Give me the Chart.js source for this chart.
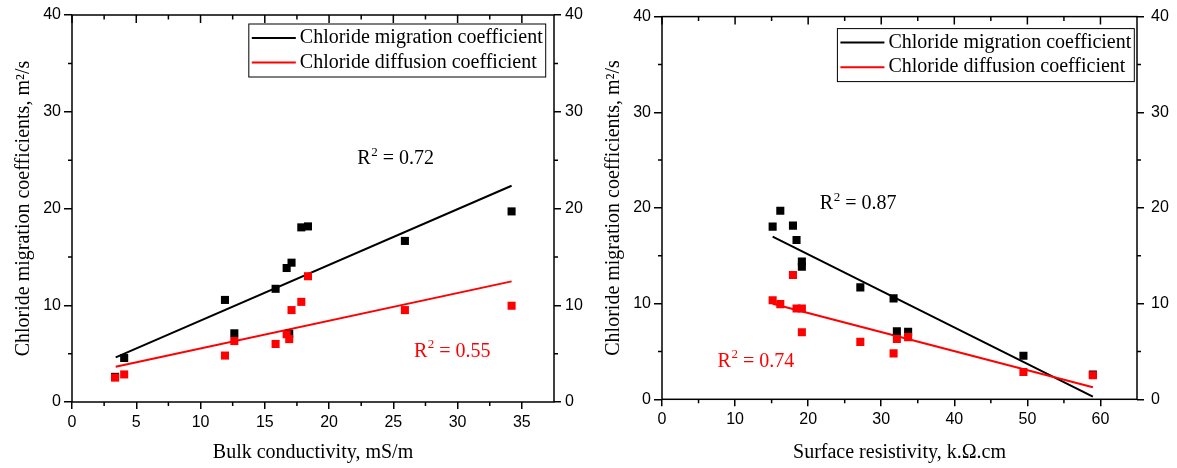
<!DOCTYPE html>
<html>
<head>
<meta charset="utf-8">
<script src="https://cdn.jsdelivr.net/npm/chart.js@4.4.1/dist/chart.umd.min.js"></script>
<style>
  html, body { margin: 0; padding: 0; background: #fff; }
  #wrap { position: relative; width: 1177px; height: 468px; }
  canvas { position: absolute; top: 0; }
</style>
</head>
<body>
<div id="wrap">
  <canvas id="bulkChart" width="590" height="468" style="left:0"></canvas>
  <canvas id="surfChart" width="587" height="468" style="left:590px"></canvas>
</div>
<script>
"use strict";

// one entry per specimen, same order in every array
const migrationCoeff = [2.6, 4.55, 10.55, 7.1, 11.7, 13.85, 7.05, 14.4, 18.05, 18.15, 16.65, 19.7];
const diffusionCoeff = [2.52, 2.85, 4.8, 6.3, 6.0, 7.0, 6.5, 9.5, 10.35, 13.0, 9.5, 9.95];
const bulkConductivity = [3.35, 4.06, 11.9, 12.63, 15.84, 16.7, 16.9, 17.08, 17.84, 18.36, 25.9, 34.2];
const surfaceResistivity = [58.96, 49.46, 31.69, 32.14, 27.14, 19.14, 33.68, 19.14, 15.14, 17.92, 18.41, 16.19];

// linear fits: start and end of each line
const bulkFitX = [3.4, 34.2];
const bulkMigrationFit = [4.62, 22.35];
const bulkDiffusionFit = [3.65, 12.47];
const surfFitX = [15.14, 58.96];
const surfMigrationFit = [17.0, 0.27];
const surfDiffusionFit = [9.98, 1.25];

const bulkR2 = ["0.72", "0.55"];
const surfR2 = ["0.87", "0.74"];

const bulkTicks = [0, 5, 10, 15, 20, 25, 30, 35];
const surfTicks = [0, 10, 20, 30, 40, 50, 60];
const coeffTicks = [0, 10, 20, 30, 40];

const seriesNames = ["Chloride migration coefficient", "Chloride diffusion coefficient"];

const black = "#000000";
const red = "#ff0000";
const seriesColors = [black, red];
const serif = "'Liberation Serif', 'Times New Roman', serif";
const sans = "'Liberation Sans', Arial, sans-serif";

function pairs(xs, ys) {
    return xs.map((x, i) => ({ x: x, y: ys[i] }));
}

// ticks halfway between the major ones
function minors(major, max) {
    const out = [];
    for (let i = 0; i < major.length; i++) {
        const step = i + 1 < major.length ? major[i + 1] - major[i] : major[i] - major[i - 1];
        const m = major[i] + step / 2;
        if (m < max) out.push(m);
    }
    return out;
}

const framePlugin = {
    id: "frame",
    afterDatasetsDraw(chart) {
        const { ctx, chartArea: a, scales } = chart;
        const xs = scales.x, ys = scales.y;
        ctx.save();
        ctx.strokeStyle = black;
        ctx.lineWidth = 1.5;
        ctx.strokeRect(a.left, a.top, a.right - a.left, a.bottom - a.top);
        ctx.beginPath();
        xs.ticks.forEach(t => {
            const p = xs.getPixelForValue(t.value);
            ctx.moveTo(p, a.top);
            ctx.lineTo(p, a.top + 8);
        });
        minors(xs.ticks.map(t => t.value), xs.max).forEach(v => {
            const p = xs.getPixelForValue(v);
            ctx.moveTo(p, a.top);
            ctx.lineTo(p, a.top + 4.5);
            ctx.moveTo(p, a.bottom);
            ctx.lineTo(p, a.bottom + 4);
        });
        minors(ys.ticks.map(t => t.value), ys.max).forEach(v => {
            const p = ys.getPixelForValue(v);
            ctx.moveTo(a.left, p);
            ctx.lineTo(a.left - 4, p);
            ctx.moveTo(a.right, p);
            ctx.lineTo(a.right + 4, p);
        });
        ctx.stroke();
        ctx.restore();
    }
};

function notesPlugin(notes) {
    return {
        id: "notes",
        afterDatasetsDraw(chart) {
            const ctx = chart.ctx;
            ctx.save();
            ctx.textBaseline = "middle";
            ctx.textAlign = "left";
            notes.forEach(n => {
                let x = chart.scales.x.getPixelForValue(n.x);
                const y = chart.scales.y.getPixelForValue(n.y);
                ctx.fillStyle = n.color;
                ctx.font = "20px " + serif;
                ctx.fillText("R", x, y);
                x += ctx.measureText("R").width + 0.5;
                ctx.font = "13px " + serif;
                ctx.fillText("2", x, y - 7);
                x += ctx.measureText("2").width;
                ctx.font = "20px " + serif;
                ctx.fillText(" = " + n.value, x, y);
            });
            ctx.restore();
        }
    };
}

function legendPlugin(offRight, offTop) {
    return {
        id: "boxLegend",
        afterDatasetsDraw(chart) {
            const ctx = chart.ctx, a = chart.chartArea;
            ctx.save();
            ctx.font = "20px " + serif;
            const w = Math.max(...seriesNames.map(s => ctx.measureText(s).width));
            const boxW = 51 + w + 3, boxH = 53;
            const left = a.right - offRight - boxW, top = a.top + offTop;
            ctx.fillStyle = "#fff";
            ctx.fillRect(left, top, boxW, boxH);
            ctx.strokeStyle = black;
            ctx.lineWidth = 1;
            ctx.strokeRect(left, top, boxW, boxH);
            ctx.textBaseline = "middle";
            seriesNames.forEach((s, i) => {
                const y = top + 14 + i * 24.6;
                ctx.strokeStyle = seriesColors[i];
                ctx.lineWidth = 2;
                ctx.beginPath();
                ctx.moveTo(left + 3, y);
                ctx.lineTo(left + 47, y);
                ctx.stroke();
                ctx.fillStyle = black;
                ctx.fillText(s, left + 51, y);
            });
            ctx.restore();
        }
    };
}

function pointSet(label, xs, ys, color, order) {
    return {
        label: label,
        data: pairs(xs, ys),
        backgroundColor: color,
        borderColor: color,
        borderWidth: 0,
        pointStyle: "rect",
        pointRadius: 5.7,
        order: order
    };
}

function fitSet(xs, ys, color, order) {
    return {
        data: pairs(xs, ys),
        borderColor: color,
        borderWidth: 2,
        showLine: true,
        pointRadius: 0,
        order: order
    };
}

function tickAxis(ticks, extra) {
    return Object.assign({
        type: "linear",
        afterBuildTicks: s => { s.ticks = ticks.map(v => ({ value: v })); },
        ticks: { font: { family: sans, size: 16 }, color: black, maxRotation: 0, autoSkip: false },
        grid: { drawOnChartArea: false, color: black, lineWidth: 1.5, tickLength: 7 },
        border: { display: false }
    }, extra);
}

function CreateChart(id, cfg) {
    const yTitle = "Chloride migration coefficients, m\u00B2/s";
    return new Chart(document.getElementById(id), {
        type: "scatter",
        data: {
            datasets: [
                pointSet(seriesNames[1], cfg.x, diffusionCoeff, red, 1),
                pointSet(seriesNames[0], cfg.x, migrationCoeff, black, 2),
                fitSet(cfg.fitX, cfg.difFit, red, 3),
                fitSet(cfg.fitX, cfg.migFit, black, 4)
            ]
        },
        options: {
            responsive: false,
            animation: false,
            events: [],
            layout: { padding: { top: cfg.top, left: 0, right: 0, bottom: 0 } },
            plugins: { legend: { display: false }, tooltip: { enabled: false } },
            scales: {
                x: tickAxis(cfg.xTicks, {
                    position: "bottom", min: 0, max: cfg.xMax,
                    afterFit: s => { s.height = cfg.bottom; },
                    ticks: { font: { family: sans, size: 16 }, color: black, padding: 4, maxRotation: 0, autoSkip: false },
                    title: { display: true, text: cfg.xTitle, color: black,
                             font: { family: serif, size: 20 }, padding: { top: 0, bottom: 3 } }
                }),
                y: tickAxis(coeffTicks, {
                    position: "left", min: 0, max: 40,
                    afterFit: s => { s.width = 72; },
                    ticks: { font: { family: sans, size: 16 }, color: black, padding: 3 },
                    grid: { drawOnChartArea: false, color: black, lineWidth: 1.5, tickLength: 8 },
                    title: { display: true, text: yTitle, color: black,
                             font: { family: serif, size: 20 }, padding: { top: 12, bottom: 0 } }
                }),
                y2: tickAxis(coeffTicks, {
                    position: "right", min: 0, max: 40,
                    afterFit: s => { s.width = cfg.right; },
                    ticks: { font: { family: sans, size: 16 }, color: black, padding: cfg.rightPad }
                })
            }
        },
        plugins: [framePlugin, notesPlugin(cfg.notes), legendPlugin(cfg.legendRight, cfg.legendTop)]
    });
}

window.addEventListener("load", () => {
    CreateChart("bulkChart", {
        x: bulkConductivity, xTicks: bulkTicks, xMax: 37.5,
        xTitle: "Bulk conductivity, mS/m",
        fitX: bulkFitX, migFit: bulkMigrationFit, difFit: bulkDiffusionFit,
        top: 15, bottom: 66, right: 36, rightPad: 4,
        legendRight: 8.3, legendTop: 9,
        notes: [
            { x: 22.2, y: 25.1, value: bulkR2[0], color: black },
            { x: 26.6, y: 5.2, value: bulkR2[1], color: red }
        ]
    });
    CreateChart("surfChart", {
        x: surfaceResistivity, xTicks: surfTicks, xMax: 65,
        xTitle: "Surface resistivity, k.\u03A9.cm",
        fitX: surfFitX, migFit: surfMigrationFit, difFit: surfDiffusionFit,
        top: 15, bottom: 68.7, right: 40, rightPad: 7,
        legendRight: 2.7, legendTop: 12,
        notes: [
            { x: 21.6, y: 20.4, value: surfR2[0], color: black },
            { x: 7.6, y: 3.9, value: surfR2[1], color: red }
        ]
    });
});
</script>
</body>
</html>
